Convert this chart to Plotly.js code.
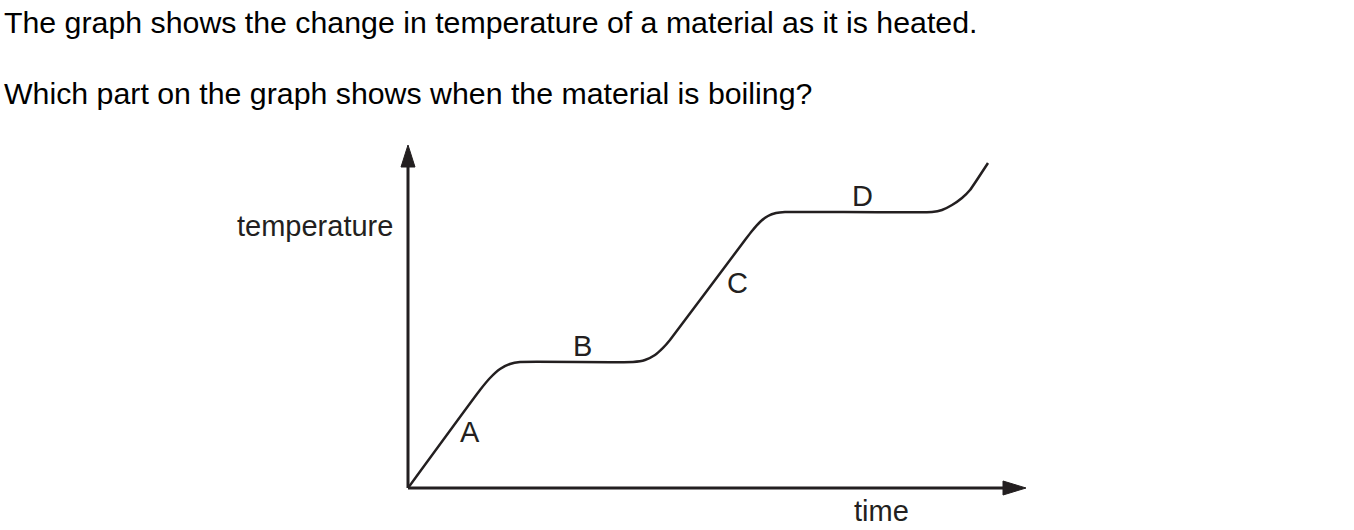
<!DOCTYPE html>
<html>
<head>
<meta charset="utf-8">
<script src="https://cdn.plot.ly/plotly-3.0.1.min.js"></script>
<style>html,body{margin:0;padding:0;background:#fff;}#chart{width:1354px;height:530px;}</style>
</head>
<body>
<div id="chart"></div>
<script>
// Heating curve (arbitrary units, 0-100 on each axis)
const time = [0, 11.65, 13.27, 14.89, 16.50, 18.12, 36.41, 38.35, 39.97, 41.26, 42.39, 54.53, 55.66, 56.96, 58.25, 59.55, 61.00, 84.79, 86.41, 88.03, 89.64, 90.94, 93.85];
const temperature = [0, 28.57, 32.07, 34.69, 36.15, 36.73, 36.73, 37.32, 38.78, 40.82, 43.15, 72.30, 74.93, 77.55, 79.30, 80.17, 80.47, 80.47, 81.05, 82.51, 84.55, 86.88, 94.75];

// Part labels and where they sit (same units)
const partLabels = ['A', 'B', 'C', 'D'];
const labelTime = [10.03, 28.16, 53.24, 73.62];
const labelTemp = [16.33, 41.40, 59.77, 85.13];

const questionLines = [
  'The graph shows the change in temperature of a material as it is heated.',
  'Which part on the graph shows when the material is boiling?'
];
const xTitle = 'time';
const yTitle = 'temperature';

const INK = '#231f20';
const FONT = 'Liberation Sans, Arial, Helvetica, sans-serif';

const trace = {
  x: time, y: temperature, type: 'scatter', mode: 'lines',
  line: {color: INK, width: 2.5, shape: 'spline', smoothing: 0.4},
  hoverinfo: 'skip', showlegend: false
};

const W = 618, H = 343; // plot area in px
const annotations = [];
partLabels.forEach((t, i) => annotations.push({
  text: t, x: labelTime[i], y: labelTemp[i], xref: 'x', yref: 'y',
  showarrow: false, xanchor: 'center', yanchor: 'middle',
  font: {family: FONT, size: 29, color: INK}
}));
annotations.push({
  text: yTitle, xref: 'paper', yref: 'paper', x: (395 - 408) / W, y: (488 - 226) / H,
  xanchor: 'right', yanchor: 'middle', showarrow: false,
  font: {family: FONT, size: 29, color: INK}
});
annotations.push({
  text: xTitle, xref: 'paper', yref: 'paper', x: (852 - 408) / W, y: (488 - 511) / H,
  xanchor: 'left', yanchor: 'middle', showarrow: false,
  font: {family: FONT, size: 29, color: INK}
});
const qY = [22, 93];
questionLines.forEach((t, i) => annotations.push({
  text: t, xref: 'paper', yref: 'paper', x: (2 - 408) / W, y: (488 - qY[i]) / H,
  xanchor: 'left', yanchor: 'middle', showarrow: false,
  font: {family: FONT, size: 30.3, color: '#000'}
}));

const yBase = (488 - 167) / H, xBase = (1003 - 408) / W;
const hw = 7 / W, hh = 7 / H;
const shapes = [
  {type: 'line', xref: 'paper', yref: 'paper', x0: 0, y0: 0, x1: 0, y1: yBase + 0.005, line: {color: INK, width: 3}},
  {type: 'line', xref: 'paper', yref: 'paper', x0: 0, y0: 0, x1: xBase + 0.005, y1: 0, line: {color: INK, width: 3}},
  {type: 'path', xref: 'paper', yref: 'paper', path: `M0,1 L${-hw},${yBase} L${hw},${yBase} Z`, fillcolor: INK, line: {color: INK, width: 1}},
  {type: 'path', xref: 'paper', yref: 'paper', path: `M1,0 L${xBase},${hh} L${xBase},${-hh} Z`, fillcolor: INK, line: {color: INK, width: 1}}
];

const layout = {
  width: 1354, height: 530,
  margin: {l: 408, r: 328, t: 145, b: 42, pad: 0},
  paper_bgcolor: '#fff', plot_bgcolor: '#fff',
  xaxis: {range: [0, 100], visible: false, fixedrange: true},
  yaxis: {range: [0, 100], visible: false, fixedrange: true},
  showlegend: false,
  annotations: annotations,
  shapes: shapes
};

Plotly.newPlot('chart', [trace], layout, {staticPlot: true, displayModeBar: false});
</script>
</body>
</html>
